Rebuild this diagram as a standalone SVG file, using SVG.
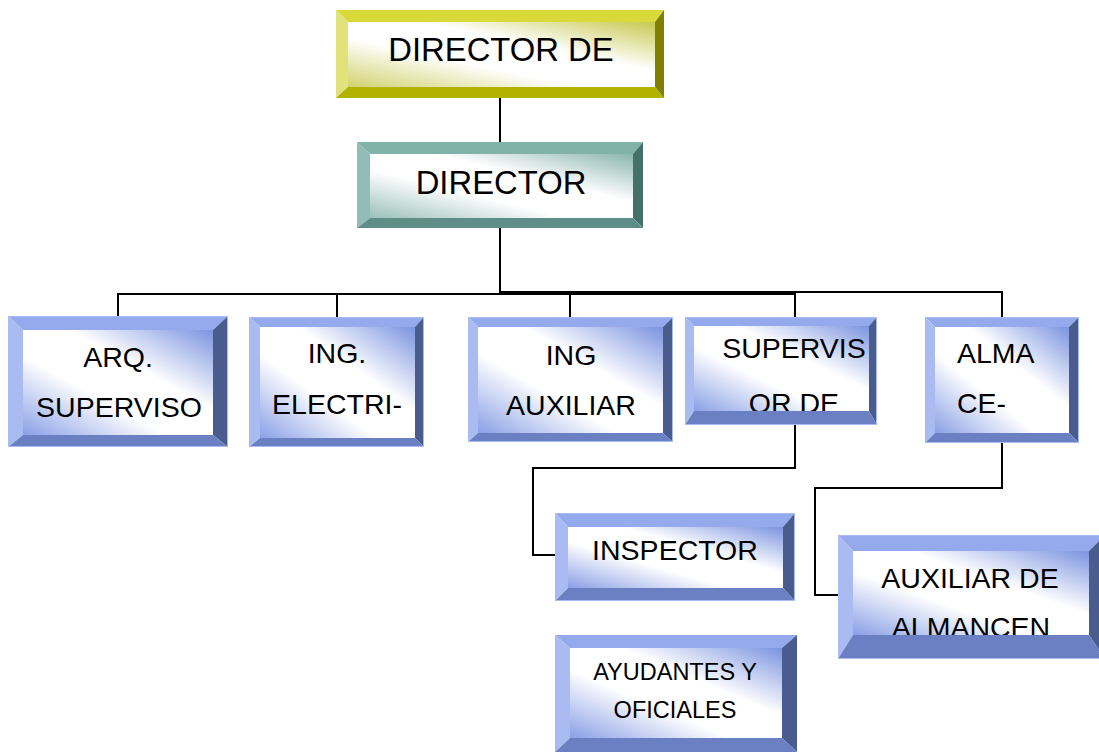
<svg xmlns="http://www.w3.org/2000/svg" width="1099" height="752" viewBox="0 0 1099 752">
<style>
text{font-family:"Liberation Sans",Arial,sans-serif;fill:#000;text-anchor:middle}
.t28{font-size:28.5px}
.t32{font-size:32.8px}
.t23{font-size:23.5px}
.con{fill:none;stroke:#000;stroke-width:2}
.bt{fill:#94aaec}.bl{fill:#a9bbf1}.br{fill:#4a5b8e}.bb{fill:#6a80c2}
.yt{fill:#d9d93a}.yl{fill:#e2e27a}.yr{fill:#808000}.yb{fill:#b2b200}
.gt{fill:#80b2aa}.gl{fill:#92bdb6}.gr{fill:#46706a}.gb{fill:#5f8e88}
.ob{fill:none;stroke:#a9bbf1;stroke-width:1}
</style>
<defs>
<linearGradient id="gBlue" x1="1" y1="0" x2="0" y2="1">
<stop offset="0" stop-color="#7b93e0"/><stop offset="0.38" stop-color="#ffffff"/><stop offset="0.62" stop-color="#ffffff"/><stop offset="1" stop-color="#8aa0e6"/>
</linearGradient>
<linearGradient id="gYel" x1="1" y1="0" x2="0" y2="1">
<stop offset="0" stop-color="#c8c850"/><stop offset="0.38" stop-color="#ffffff"/><stop offset="0.62" stop-color="#ffffff"/><stop offset="1" stop-color="#d2d270"/>
</linearGradient>
<linearGradient id="gTeal" x1="1" y1="0" x2="0" y2="1">
<stop offset="0" stop-color="#8ab4ae"/><stop offset="0.38" stop-color="#ffffff"/><stop offset="0.62" stop-color="#ffffff"/><stop offset="1" stop-color="#9cc0ba"/>
</linearGradient>
</defs>

<g id="connectors">
<line class="con" x1="500" y1="98" x2="500" y2="142"/>
<line class="con" x1="500" y1="228" x2="500" y2="293"/>
<path class="con" d="M118,317 V294 H795"/>
<path class="con" d="M500,292 H1002 V317"/>
<line class="con" x1="337" y1="294" x2="337" y2="317"/>
<line class="con" x1="570" y1="294" x2="570" y2="317"/>
<line class="con" x1="795" y1="293" x2="795" y2="317"/>
<path class="con" d="M795,425 V468 H533 V555 H555"/>
<path class="con" d="M1002,443 V488 H815 V595 H838"/>
</g>

<g id="n-director-de">
<rect x="348" y="22" width="307" height="65" fill="url(#gYel)"/>
<text class="t32" x="501" y="61">DIRECTOR DE</text>
<polygon class="yt" points="336,10 664,10 655,22 348,22"/>
<polygon class="yl" points="336,10 348,22 348,87 336,98"/>
<polygon class="yr" points="664,10 664,98 655,87 655,22"/>
<polygon class="yb" points="336,98 664,98 655,87 348,87"/>
</g>

<g id="n-director">
<rect x="370" y="154" width="263" height="64" fill="url(#gTeal)"/>
<text class="t32" x="501" y="194">DIRECTOR</text>
<polygon class="gt" points="357,142 643,142 633,154 370,154"/>
<polygon class="gl" points="357,142 370,154 370,218 357,228"/>
<polygon class="gr" points="643,142 643,228 633,218 633,154"/>
<polygon class="gb" points="357,228 643,228 633,218 370,218"/>
</g>

<g id="n-arq">
<rect x="23" y="330" width="190" height="105" fill="url(#gBlue)"/>
<text class="t28" x="118" y="367">ARQ.</text>
<text class="t28" x="119" y="417">SUPERVISO</text>
<polygon class="bt" points="8,316 228,316 213,330 23,330"/>
<polygon class="bl" points="8,316 23,330 23,435 8,447"/>
<polygon class="br" points="228,316 228,447 213,435 213,330"/>
<polygon class="bb" points="8,447 228,447 213,435 23,435"/>
<rect class="ob" x="8.5" y="316.5" width="219" height="130"/>
</g>

<g id="n-ing-electri">
<rect x="260" y="327" width="155" height="111" fill="url(#gBlue)"/>
<text class="t28" x="337" y="363">ING.</text>
<text class="t28" x="337" y="414">ELECTRI-</text>
<polygon class="bt" points="249,317 424,317 415,327 260,327"/>
<polygon class="bl" points="249,317 260,327 260,438 249,447"/>
<polygon class="br" points="424,317 424,447 415,438 415,327"/>
<polygon class="bb" points="249,447 424,447 415,438 260,438"/>
<rect class="ob" x="249.5" y="317.5" width="174" height="129"/>
</g>

<g id="n-ing-auxiliar">
<rect x="478" y="327" width="185" height="106" fill="url(#gBlue)"/>
<text class="t28" x="571" y="365">ING</text>
<text class="t28" x="571" y="415">AUXILIAR</text>
<polygon class="bt" points="468,317 673,317 663,327 478,327"/>
<polygon class="bl" points="468,317 478,327 478,433 468,442"/>
<polygon class="br" points="673,317 673,442 663,433 663,327"/>
<polygon class="bb" points="468,442 673,442 663,433 478,433"/>
<rect class="ob" x="468.5" y="317.5" width="204" height="124"/>
</g>

<g id="n-supervisor">
<rect x="694" y="326" width="175" height="85" fill="url(#gBlue)"/>
<text class="t28" x="794" y="358">SUPERVIS</text>
<text class="t28" x="794" y="413">OR DE</text>
<polygon class="bt" points="685,317 877,317 869,326 694,326"/>
<polygon class="bl" points="685,317 694,326 694,411 685,425"/>
<polygon class="br" points="877,317 877,425 869,411 869,326"/>
<polygon class="bb" points="685,425 877,425 869,411 694,411"/>
<rect class="ob" x="685.5" y="317.5" width="191" height="107"/>
</g>

<g id="n-almace">
<rect x="935" y="327" width="134" height="106" fill="url(#gBlue)"/>
<text class="t28" x="957" y="363" style="text-anchor:start">ALMA</text>
<text class="t28" x="957" y="413" style="text-anchor:start">CE-</text>
<polygon class="bt" points="925,317 1079,317 1069,327 935,327"/>
<polygon class="bl" points="925,317 935,327 935,433 925,443"/>
<polygon class="br" points="1079,317 1079,443 1069,433 1069,327"/>
<polygon class="bb" points="925,443 1079,443 1069,433 935,433"/>
<rect class="ob" x="925.5" y="317.5" width="153" height="125"/>
</g>

<g id="n-inspector">
<rect x="568" y="527" width="215" height="61" fill="url(#gBlue)"/>
<text class="t28" x="675" y="560">INSPECTOR</text>
<polygon class="bt" points="555,513 795,513 783,527 568,527"/>
<polygon class="bl" points="555,513 568,527 568,588 555,601"/>
<polygon class="br" points="795,513 795,601 783,588 783,527"/>
<polygon class="bb" points="555,601 795,601 783,588 568,588"/>
<rect class="ob" x="555.5" y="513.5" width="239" height="87"/>
</g>

<g id="n-auxiliar-almacen">
<rect x="853" y="551" width="236" height="84" fill="url(#gBlue)"/>
<text class="t28" x="970" y="588">AUXILIAR DE</text>
<text class="t28" x="971" y="637">ALMANCEN</text>
<polygon class="bt" points="838,535 1105,535 1089,551 853,551"/>
<polygon class="bl" points="838,535 853,551 853,635 838,659"/>
<polygon class="br" points="1105,535 1105,659 1089,635 1089,551"/>
<polygon class="bb" points="838,659 1105,659 1089,635 853,635"/>
<rect class="ob" x="838.5" y="535.5" width="266" height="123"/>
</g>

<g id="n-ayudantes">
<rect x="570" y="648" width="212" height="90" fill="url(#gBlue)"/>
<text class="t23" x="675" y="680">AYUDANTES Y</text>
<text class="t23" x="675" y="718">OFICIALES</text>
<polygon class="bt" points="555,635 797,635 782,648 570,648"/>
<polygon class="bl" points="555,635 570,648 570,738 555,752"/>
<polygon class="br" points="797,635 797,752 782,738 782,648"/>
<polygon class="bb" points="555,752 797,752 782,738 570,738"/>
</g>
</svg>
